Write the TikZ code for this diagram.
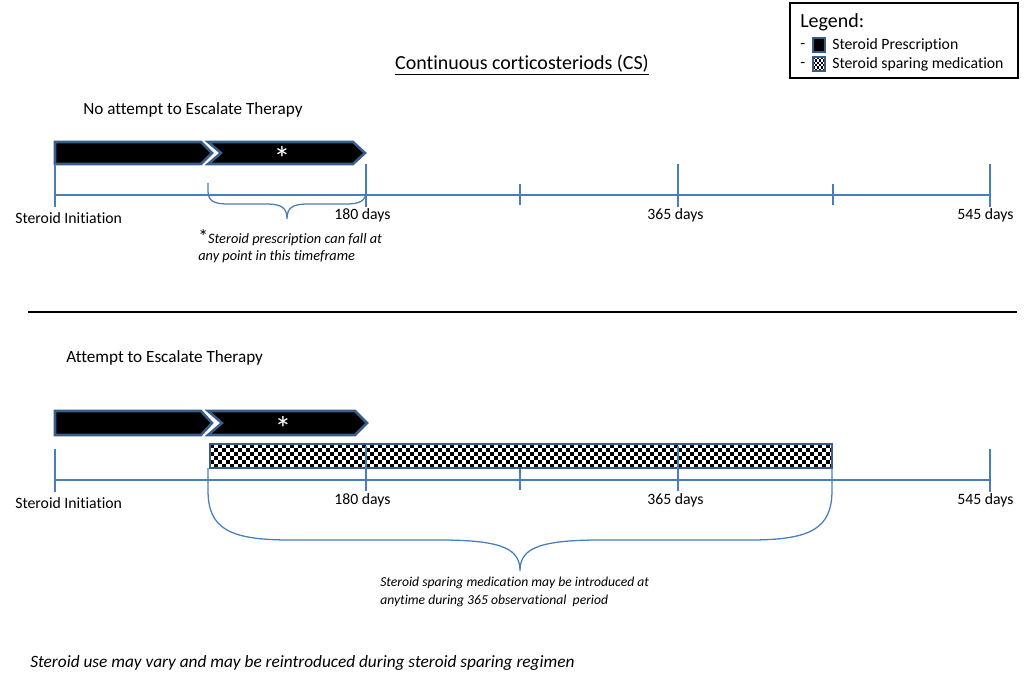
\documentclass[tikz,border=0pt]{standalone}
\usepackage{fontspec}
\setmainfont{Carlito}[Ligatures=NoCommon]
\usetikzlibrary{positioning}

\definecolor{axisblue}{RGB}{74,126,187}
\definecolor{edgeblue}{RGB}{56,93,138}

\begin{document}
\begin{tikzpicture}[x=0.025cm,y=-0.025cm]
	\tikzstyle{label} = [inner sep=0pt, anchor=west, font=\fontsize{11.2}{13}\selectfont]
	\tikzstyle{heading} = [inner sep=0pt, anchor=west, font=\fontsize{12.2}{14}\selectfont]
	\tikzstyle{note} = [inner sep=0pt, anchor=west, font=\fontsize{10.2}{13}\selectfont\itshape]
	\tikzstyle{axis line} = [axisblue, line width=0.9pt]
	\tikzstyle{dose} = [fill=black, draw=edgeblue, line width=1.8pt, line join=miter]
	\tikzstyle{sparing} = [draw=edgeblue, line width=1.8pt]
	\tikzstyle{star} = [inner sep=0pt, anchor=north, text=white, font=\fontsize{24}{24}\selectfont]

	\useasboundingbox (0,0) rectangle (1029,675);

	% title and legend
	\node (title) at (522,65) {\fontsize{14.2}{16}\selectfont\underline{Continuous corticosteriods (CS)}};
	\draw[black, line width=0.8pt] (790,3) rectangle (1018,78);
	\node[label, font=\fontsize{14.2}{16}\selectfont] (legend) at (800,22) {Legend:};
	\node[label, anchor=base west] (dash1) at (800,49) {-};
	\node[label, anchor=base west] (dash2) at (800,68) {-};
	\draw[dose, line width=1.3pt] (813,38) rectangle (825,52);
	\node[label] (leg1) at (832,45) {Steroid Prescription};
	\fill[white] (813,57) rectangle (825,71);
	\foreach \i in {0,1,2} {
		\foreach \j in {0,1,2} {
			\fill[black] ({813+4*\i}, {57+4.67*\j}) rectangle ++(2,2.33);
			\fill[black] ({815+4*\i}, {59.33+4.67*\j}) rectangle ++(2,2.33);
		}
	}
	\draw[sparing, line width=1.3pt] (813,57) rectangle (825,71);
	\node[label] (leg2) at (832,64) {Steroid sparing medication};

	% no attempt to escalate
	\node[heading] (noesc) at (83,110) {No attempt to Escalate Therapy};
	\draw[dose] (55,142) -- (201,142) -- (212,153) -- (201,164) -- (55,164) -- cycle;
	\draw[dose] (208,142) -- (353,142) -- (365,153) -- (353,164) -- (208,164) -- (221,153) -- cycle;
	\node[star] (star1) at (282,146) {*};

	\draw[axis line] (55,195) -- (990,195);
	\foreach \x in {55,366,678,990}
		\draw[axis line] (\x,164) -- (\x,207);
	\foreach \x in {520,833}
		\draw[axis line] (\x,184) -- (\x,205);
	\draw[axis line] (208,183) -- (208,191) .. controls (208,201) and (214,204) .. (228,204) -- (266,204)
		.. controls (282,204) and (287,208) .. (287,219) .. controls (287,208) and (292,204) .. (308,204)
		-- (346,204) .. controls (360,204) and (366,201) .. (366,191);

	\node[label] (init1) at (15,218) {Steroid Initiation};
	\node[label] (d180a) at (334,215) {180 days};
	\node[label] (d365a) at (647,215) {365 days};
	\node[label] (d545a) at (957,215) {545 days};
	\node[note] (fall1) at (198,238) {\upshape\fontsize{14}{14}\selectfont*\itshape\fontsize{10.2}{13}\selectfont Steroid prescription can fall at};
	\node[note] (fall2) at (198,257) {any point in this timeframe};

	\draw[black, line width=0.8pt] (28,312) -- (1017,312);

	% attempt to escalate
	\node[heading] (esc) at (66,358) {Attempt to Escalate Therapy};
	\draw[dose] (55,411) -- (201,411) -- (212,423) -- (201,435) -- (55,435) -- cycle;
	\draw[dose] (208,411) -- (355,411) -- (367,423) -- (355,435) -- (208,435) -- (222,423) -- cycle;
	\node[star] (star2) at (283,416) {*};

	\fill[white] (210,444) rectangle (832,468);
	\begin{scope}
		\clip (210,444) rectangle (832,468);
		\foreach \j in {0,...,5} {
			\foreach \i in {0,...,77} {
				\fill[black] ({210+8*\i+4*mod(\j,2)}, {444+4*\j}) rectangle ++(4,4);
			}
		}
	\end{scope}
	\draw[sparing] (210,444) rectangle (832,468);

	\draw[axis line] (55,480) -- (990,480);
	\foreach \x in {55,990}
		\draw[axis line] (\x,449) -- (\x,492);
	\foreach \x in {366,678}
		\draw[axis line] (\x,446) -- (\x,491);
	\draw[axis line] (520,469) -- (520,490);
	\draw[axis line] (208,468) -- (208,490) .. controls (208,528) and (228,540) .. (290,540) -- (440,540)
		.. controls (505,540) and (520,550) .. (520,571) .. controls (520,550) and (535,540) .. (600,540)
		-- (750,540) .. controls (812,540) and (832,528) .. (832,490) -- (832,468);

	\node[label] (init2) at (15,503) {Steroid Initiation};
	\node[label] (d180b) at (334,500) {180 days};
	\node[label] (d365b) at (647,500) {365 days};
	\node[label] (d545b) at (957,500) {545 days};
	\node[note, font=\fontsize{9.7}{12}\selectfont\itshape] (intro1) at (380,583) {Steroid sparing medication may be introduced at};
	\node[note, font=\fontsize{9.7}{12}\selectfont\itshape] (intro2) at (380,601) {anytime during 365 observational\ \ period};

	\node[note, font=\fontsize{12.3}{14}\selectfont\itshape] (vary) at (30,663) {Steroid use may vary and may be reintroduced during steroid sparing regimen};
\end{tikzpicture}
\end{document}
